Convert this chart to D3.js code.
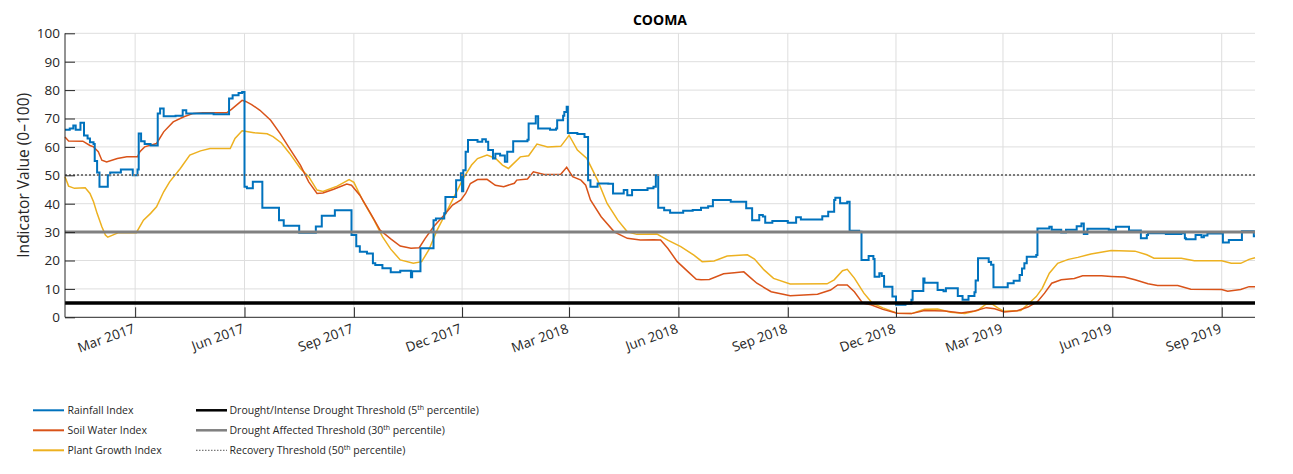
<!DOCTYPE html>
<html>
<head>
<meta charset="utf-8">
<script src="https://cdn.jsdelivr.net/npm/d3@7"></script>
<style>
  body { margin: 0; background: #fff; }
  svg { display: block; font-family: "Open Sans", sans-serif; }
</style>
</head>
<body>
<svg id="chart" width="1293" height="474"></svg>
<script>
const title = "COOMA";
const yLabel = "Indicator Value (0\u2013100)";
const xDomain = ["2017-01-01", "2019-09-29"];
const xTicks = ["2017-03-01","2017-06-01","2017-09-01","2017-12-01","2018-03-01","2018-06-01","2018-09-01","2018-12-01","2019-03-01","2019-06-01","2019-09-01"];
const yTicks = [0,10,20,30,40,50,60,70,80,90,100];

const rainfall = [
["2017-01-01",66],["2017-01-05",66.5],["2017-01-08",67.5],["2017-01-10",66],["2017-01-14",68.5],["2017-01-17",64],["2017-01-20",63],["2017-01-22",61.6],["2017-01-25",61],["2017-01-26",55],["2017-01-28",51],["2017-01-30",46],
["2017-02-06",50],["2017-02-08",51],["2017-02-17",52],["2017-02-27",50],["2017-03-03",52],["2017-03-04",64.7],["2017-03-06",62],["2017-03-09",61],["2017-03-14",60.5],["2017-03-20",71.8],["2017-03-22",73.5],["2017-03-25",70.8],
["2017-04-04",71],["2017-04-10",72.9],["2017-04-13",71.8],["2017-05-06",71.5],["2017-05-19",77],["2017-05-22",78.2],["2017-05-27",79],["2017-05-30",79.3],["2017-06-01",46],["2017-06-03",45.4],["2017-06-08",47.7],["2017-06-16",38.6],["2017-06-30",34.2],
["2017-07-04",32.2],["2017-07-17",29.8],["2017-07-31",32],["2017-08-05",35.8],["2017-08-16",37.7],["2017-08-30",29],["2017-09-03",25],["2017-09-06",23.1],["2017-09-12",22.5],["2017-09-17",19],["2017-09-19",18.4],["2017-09-25",17.3],
["2017-10-02",15.9],["2017-10-10",16.4],["2017-10-19",14.1],["2017-10-20",16.2],["2017-10-27",24.3],["2017-11-07",34.2],["2017-11-09",34.8],["2017-11-16",36.6],["2017-11-17",42.4],["2017-11-26",48.3],["2017-11-30",50.7],
["2017-12-01",44.4],["2017-12-02",51.8],["2017-12-04",58.3],["2017-12-06",62.4],["2017-12-14",61.8],["2017-12-18",62.7],["2017-12-21",61.8],["2017-12-23",58.9],["2017-12-27",55.9],["2017-12-29",57.6],
["2018-01-02",57],["2018-01-06",54.8],["2018-01-08",58.3],["2018-01-13",62],["2018-01-25",62.5],["2018-01-26",68.2],["2018-02-01",70.8],["2018-02-03",66.5],["2018-02-13",66],["2018-02-18",66.5],["2018-02-19",69.4],["2018-02-24",71],["2018-02-25",72.3],["2018-02-27",74.1],["2018-02-28",64.9],
["2018-03-08",64.5],["2018-03-14",63.5],["2018-03-17",48.3],["2018-03-19",46],["2018-03-25",47.1],["2018-04-03",47],["2018-04-07",43.6],["2018-04-16",44.8],["2018-04-19",43],["2018-04-23",44.8],
["2018-05-06",45.4],["2018-05-11",46],["2018-05-13",50],["2018-05-15",38.6],["2018-05-20",37.7],["2018-05-25",36.8],["2018-06-05",37.5],["2018-06-13",37.8],["2018-06-20",38.6],["2018-06-26",39.1],["2018-06-30",41.3],
["2018-07-15",40.7],["2018-07-28",38.4],["2018-08-02",34.2],["2018-08-08",36],["2018-08-11",35.5],["2018-08-13",33.3],["2018-08-19",33.9],["2018-09-01",33.3],["2018-09-08",35.2],["2018-09-12",34.4],["2018-09-30",35.6],
["2018-10-05",37.2],["2018-10-10",41.3],["2018-10-11",42.1],["2018-10-15",40.2],["2018-10-21",40.7],["2018-10-23",30.5],["2018-10-31",30.1],["2018-11-02",20.2],["2018-11-08",21.6],["2018-11-12",20.5],["2018-11-13",14.3],["2018-11-17",15.5],["2018-11-19",14.5],["2018-11-21",10.8],["2018-11-28",7.3],
["2018-12-01",4.4],["2018-12-09",4.8],["2018-12-14",6.2],["2018-12-15",9.3],["2018-12-24",13.7],["2018-12-25",12.2],
["2019-01-05",9.6],["2019-01-10",9.2],["2019-01-12",10.2],["2019-01-22",7.5],["2019-01-26",6.2],["2019-01-31",7.5],["2019-02-05",8.8],["2019-02-06",13],["2019-02-08",20.8],["2019-02-17",19.5],["2019-02-19",18.5],["2019-02-21",10.6],
["2019-03-05",12],["2019-03-10",12.9],["2019-03-15",14.9],["2019-03-17",17.2],["2019-03-19",19],["2019-03-21",21.3],["2019-03-29",21.9],["2019-03-30",31.3],["2019-04-09",31.9],["2019-04-11",30.8],["2019-04-19",29.9],["2019-04-23",30.8],
["2019-05-02",32.1],["2019-05-06",33],["2019-05-08",29.3],["2019-05-11",31.2],["2019-05-29",30.8],["2019-06-04",31.9],["2019-06-15",30.6],["2019-06-25",27.8],["2019-06-30",29],["2019-07-01",29.6],["2019-07-16",29.3],["2019-07-29",29.6],
["2019-08-01",27.8],["2019-08-02",27.5],["2019-08-10",29],["2019-08-15",28.2],["2019-08-17",28.8],["2019-08-20",29.5],["2019-09-02",26.3],["2019-09-07",27.2],["2019-09-18",30.3],["2019-09-28",28.5],["2019-09-29",28.5]
];

const soilWater = [
["2017-01-01",63.5],["2017-01-04",62.1],["2017-01-16",62],["2017-01-22",60.5],["2017-01-25",60],["2017-01-29",58.3],["2017-02-01",55.3],["2017-02-05",54.7],["2017-02-14",55.9],["2017-02-22",56.5],["2017-03-03",56.5],["2017-03-05",58.3],["2017-03-09",60],["2017-03-19",61.2],["2017-03-25",65.3],
["2017-04-02",68.8],["2017-04-11",70.6],["2017-04-19",71.8],["2017-04-27",72],["2017-05-17",72],["2017-05-21",73.2],["2017-05-30",76.4],["2017-06-02",76],["2017-06-07",74.9],["2017-06-14",72.9],["2017-06-23",69.4],["2017-07-01",64.7],["2017-07-09",59.4],["2017-07-18",53.6],["2017-07-25",47.7],
["2017-08-01",43.6],["2017-08-06",43.8],["2017-08-15",45.1],["2017-08-26",46.9],["2017-08-30",46.5],["2017-09-06",43],["2017-09-15",36.6],["2017-09-23",30.7],["2017-10-02",27.6],["2017-10-10",25.1],["2017-10-19",24.3],["2017-10-26",24.5],["2017-10-31",27.8],
["2017-11-07",31.9],["2017-11-16",36],["2017-11-23",39.5],["2017-11-30",41.3],["2017-12-04",43.6],["2017-12-08",47.1],["2017-12-14",48.5],["2017-12-22",48.6],["2017-12-29",46.5],
["2018-01-05",46],["2018-01-14",47.2],["2018-01-16",48.3],["2018-01-25",48.7],["2018-01-30",51.2],["2018-02-08",50.3],["2018-02-22",50.4],["2018-02-27",52.8],["2018-03-04",49.5],["2018-03-11",48.3],["2018-03-15",46.5],["2018-03-19",41.3],["2018-03-28",35.4],
["2018-04-08",30.1],["2018-04-19",27.8],["2018-04-30",27.2],["2018-05-11",27.3],["2018-05-17",27.2],["2018-05-23",24.3],["2018-05-31",19.6],["2018-06-09",16.1],["2018-06-16",13.4],["2018-06-20",13.2],["2018-06-27",13.3],
["2018-07-09",15.3],["2018-07-18",15.7],["2018-07-26",16],["2018-08-01",13.8],["2018-08-06",12],["2018-08-18",9],["2018-09-03",7.6],["2018-09-26",8.1],["2018-10-07",9.6],["2018-10-13",11.4],["2018-10-21",11.4],["2018-10-27",9],
["2018-11-03",5],["2018-11-10",4.4],["2018-11-20",2.8],["2018-12-02",1.4],["2018-12-14",1.3],["2018-12-25",2.4],["2019-01-11",2.2],["2019-01-25",1.5],["2019-02-05",2.2],["2019-02-15",3.4],["2019-02-22",3],
["2019-03-02",1.9],["2019-03-13",2.3],["2019-03-22",3.6],["2019-03-30",5.5],["2019-04-05",8.5],["2019-04-11",12],["2019-04-19",13.2],["2019-04-30",13.7],["2019-05-07",14.6],["2019-05-23",14.6],["2019-05-31",14.4],
["2019-06-11",14.2],["2019-06-20",13.2],["2019-07-01",11.8],["2019-07-09",11.2],["2019-07-26",11.2],["2019-08-06",9.9],["2019-09-01",9.8],["2019-09-06",9.2],["2019-09-17",9.8],["2019-09-24",10.8],["2019-09-29",10.8]
];

const plantGrowth = [
["2017-01-01",49.5],["2017-01-04",46.2],["2017-01-09",45.4],["2017-01-18",45.6],["2017-01-22",43.6],["2017-01-25",40.7],["2017-01-28",36.6],["2017-02-01",31.9],["2017-02-04",29],["2017-02-06",28.2],["2017-02-15",29.8],["2017-03-02",29.8],
["2017-03-08",34.2],["2017-03-14",36.6],["2017-03-19",38.9],["2017-03-25",44.2],["2017-03-30",47.7],["2017-04-08",52.4],["2017-04-16",57.1],["2017-04-25",58.6],["2017-05-03",59.4],["2017-05-20",59.4],["2017-05-24",63],["2017-05-30",65.7],
["2017-06-09",65],["2017-06-20",64.6],["2017-06-25",63.6],["2017-07-02",61.4],["2017-07-09",57.7],["2017-07-18",52.4],["2017-07-25",49.5],["2017-08-01",44.8],["2017-08-06",44.3],["2017-08-18",46.2],["2017-08-28",48.5],["2017-09-01",47.5],
["2017-09-09",40.7],["2017-09-18",34.2],["2017-09-25",28.4],["2017-10-02",24],["2017-10-10",20.2],["2017-10-21",19],["2017-10-28",19.6],["2017-11-03",23.7],["2017-11-10",30.7],["2017-11-18",37.2],["2017-11-25",43],
["2017-12-02",48.9],["2017-12-09",53.6],["2017-12-14",55.9],["2017-12-22",57.1],["2017-12-29",56],["2018-01-04",53.6],["2018-01-09",52.4],["2018-01-19",56.5],["2018-01-26",56.9],["2018-02-02",61],["2018-02-11",60],["2018-02-22",60.2],["2018-02-26",62.4],
["2018-03-01",64.1],["2018-03-08",58.9],["2018-03-16",55.9],["2018-03-25",48.3],["2018-04-02",40.1],["2018-04-11",34.2],["2018-04-19",30.1],["2018-04-27",29.2],["2018-05-14",29.3],["2018-05-23",27.2],["2018-06-03",24.9],["2018-06-14",21.9],["2018-06-21",19.6],
["2018-07-01",19.8],["2018-07-12",21.6],["2018-07-29",22],["2018-08-04",20.5],["2018-08-12",16.7],["2018-08-20",13.7],["2018-09-03",11.7],["2018-10-04",11.8],["2018-10-10",13.2],["2018-10-17",16.4],["2018-10-21",16.9],["2018-10-27",13.8],
["2018-11-04",8.5],["2018-11-11",5],["2018-11-20",3.3],["2018-12-02",1.4],["2018-12-14",1.3],["2018-12-25",2.8],["2019-01-05",2.9],["2019-01-16",1.8],["2019-01-28",1.3],["2019-02-08",2.5],["2019-02-15",4.7],["2019-02-20",4.6],["2019-02-25",3.2],
["2019-03-02",2.1],["2019-03-16",2.4],["2019-03-22",4.6],["2019-03-29",7.3],["2019-04-03",10.2],["2019-04-09",15.5],["2019-04-16",19],["2019-04-25",20.4],["2019-05-03",21.1],["2019-05-14",22.3],["2019-05-31",23.5],
["2019-06-20",23.3],["2019-06-30",22],["2019-07-06",20.8],["2019-07-29",20.8],["2019-08-09",19.9],["2019-09-01",19.9],["2019-09-09",19],["2019-09-17",19],["2019-09-24",20.4],["2019-09-29",21]
];

const thresholdValues = [5, 30, 50];
const seriesNames = ["Rainfall Index", "Soil Water Index", "Plant Growth Index"];
const thresholdNames = [
  ["Drought/Intense Drought Threshold (5", "th", " percentile)"],
  ["Drought Affected Threshold (30", "th", " percentile)"],
  ["Recovery Threshold (50", "th", " percentile)"]
];

const parse = d3.timeParse("%Y-%m-%d");
const svg = d3.select("#chart");
const textColor = "#262626";
const colors = ["#0072BD", "#D95319", "#EDB120"];
const mLeft = 65, mRight = 1255, mTop = 33.3, mBottom = 317.3;

const x = d3.scaleTime().domain(xDomain.map(parse)).range([mLeft, mRight]);
const y = d3.scaleLinear().domain([0, 100]).range([mBottom, mTop]);

// grid
const grid = svg.append("g");
grid.selectAll("line.gy").data(yTicks.filter(v => v > 0)).join("line")
  .attr("x1", mLeft).attr("x2", mRight).attr("y1", d => y(d)).attr("y2", d => y(d))
  .attr("stroke", "#dedede").attr("stroke-width", 1);
grid.selectAll("line.gx").data(xTicks.map(parse)).join("line")
  .attr("x1", d => x(d)).attr("x2", d => x(d)).attr("y1", mTop).attr("y2", mBottom)
  .attr("stroke", "#dedede").attr("stroke-width", 1);

// series
const datasets = [rainfall, soilWater, plantGrowth].map(s => s.map(([d, v]) => ({ date: parse(d), value: v })));
const curves = [d3.curveStepAfter, d3.curveLinear, d3.curveLinear];
const widths = [2, 1.5, 1.5];
[2, 1, 0].forEach(i => {
  const line = d3.line().x(d => x(d.date)).y(d => y(d.value)).curve(curves[i]);
  svg.append("path").datum(datasets[i]).attr("d", line)
    .attr("fill", "none").attr("stroke", colors[i]).attr("stroke-width", widths[i]);
});

// thresholds
const thStyles = [
  { color: "#000000", width: 3.5, dash: null },
  { color: "#808080", width: 3, dash: null },
  { color: "#7a7a7a", width: 2, dash: "2,2" }
];
thresholdValues.forEach((v, i) => {
  const yy = Math.round(y(v));
  svg.append("line").attr("x1", mLeft).attr("x2", mRight).attr("y1", yy).attr("y2", yy)
    .attr("stroke", thStyles[i].color).attr("stroke-width", thStyles[i].width)
    .attr("stroke-dasharray", thStyles[i].dash);
});

// axes
const yAxis = d3.axisLeft(y).tickValues(yTicks).tickSize(-10).tickPadding(5);
const gy = svg.append("g").attr("transform", `translate(${mLeft},0)`).call(yAxis);
gy.select(".domain").attr("d", `M0,${mTop}V${mBottom}`).attr("stroke", textColor);
gy.selectAll(".tick line").attr("stroke", textColor);
gy.selectAll(".tick text").attr("fill", textColor).style("font-size", "13.5px").style("font-family", "Open Sans")
  .attr("x", -5);

const xAxis = d3.axisBottom(x).tickValues(xTicks.map(parse)).tickFormat(d3.timeFormat("%b %Y")).tickSize(-10);
const gx = svg.append("g").attr("transform", `translate(0,${mBottom})`).call(xAxis);
gx.select(".domain").attr("d", `M${mLeft},0H${mRight}`).attr("stroke", textColor);
gx.selectAll(".tick line").attr("stroke", textColor);
gx.selectAll(".tick text").attr("fill", textColor).style("font-size", "13.5px").style("font-family", "Open Sans")
  .attr("text-anchor", "end").attr("dy", null).attr("y", 0)
  .attr("transform", "translate(0,15) rotate(-20)");

// title
svg.append("text").attr("x", (mLeft + mRight) / 2).attr("y", 25).attr("text-anchor", "middle")
  .attr("fill", "#000").style("font-size", "14px").style("font-weight", "bold").text(title);

// y label
svg.append("text").attr("transform", `translate(29,${(mTop + mBottom) / 2}) rotate(-90)`)
  .attr("text-anchor", "middle").attr("fill", textColor).style("font-size", "15.5px").text(yLabel);

// legend
const legendRows = [410.3, 430.3, 450.3];
const lg = svg.append("g");
seriesNames.forEach((n, i) => {
  lg.append("line").attr("x1", 33).attr("x2", 64).attr("y1", legendRows[i]).attr("y2", legendRows[i])
    .attr("stroke", colors[i]).attr("stroke-width", 2);
  lg.append("text").attr("x", 67.5).attr("y", legendRows[i] + 3.5).attr("fill", textColor)
    .style("font-size", "10.5px").text(n);
});
thresholdNames.forEach((parts, i) => {
  lg.append("line").attr("x1", 196).attr("x2", 227).attr("y1", legendRows[i]).attr("y2", legendRows[i])
    .attr("stroke", thStyles[i].color).attr("stroke-width", i === 2 ? 1.2 : 2.5)
    .attr("stroke-dasharray", i === 2 ? "1.5,1.5" : null);
  const t = lg.append("text").attr("x", 229.5).attr("y", legendRows[i] + 3.5).attr("fill", textColor)
    .style("font-size", "10.5px");
  t.append("tspan").text(parts[0]);
  t.append("tspan").attr("dy", -4).style("font-size", "7px").text(parts[1]);
  t.append("tspan").attr("dy", 4).text(parts[2]);
});
</script>
</body>
</html>
